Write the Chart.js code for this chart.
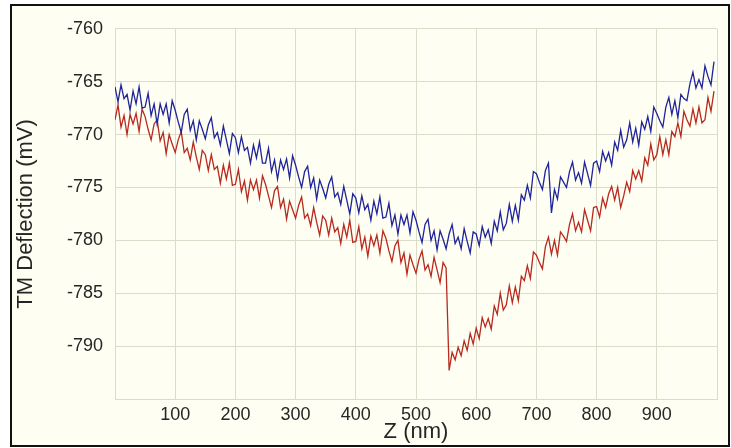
<!DOCTYPE html>
<html>
<head>
<meta charset="utf-8">
<script src="https://cdn.jsdelivr.net/npm/chart.js@4"></script>
<style>
  html, body { margin: 0; padding: 0; background: #ffffff; }
  #frame {
    position: absolute; left: 10px; top: 4px;
    width: 716px; height: 439px;
    border: 2px solid #111111;
    background: #fefef2;
  }
</style>
</head>
<body>
<div id="frame"><canvas id="forceChart" width="716" height="439"></canvas></div>
<script>
// Z position of each sample (nm)
const zNm = [
  0,5,10,15,20,25,30,35,40,45, 50,55,60,65,70,75,80,85,90,95,
  100,105,110,115,120,125,130,135,140,145, 150,155,160,165,170,175,180,185,190,195,
  200,205,210,215,220,225,230,235,240,245, 250,255,260,265,270,275,280,285,290,295,
  300,305,310,315,320,325,330,335,340,345, 350,355,360,365,370,375,380,385,390,395,
  400,405,410,415,420,425,430,435,440,445, 450,455,460,465,470,475,480,485,490,495,
  500,505,510,515,520,525,530,535,540,545, 550,555,560,565,570,575,580,585,590,595,
  600,605,610,615,620,625,630,635,640,645, 650,655,660,665,670,675,680,685,690,695,
  700,705,710,715,720,725,730,735,740,745, 750,755,760,765,770,775,780,785,790,795,
  800,805,810,815,820,825,830,835,840,845, 850,855,860,865,870,875,880,885,890,895,
  900,905,910,915,920,925,930,935,940,945, 950,955,960,965,970,975,980,985,990,995
];

// blue trace (mV)
const blueMv = [
  -765.5,-766.9,-765.3,-766.6,-766.2,-767.7,-765.9,-767.1,-765.5,-767.5,
  -767.4,-766.1,-768.2,-767.1,-769.0,-767.1,-768.1,-767.1,-768.9,-766.8,
  -767.7,-768.8,-769.8,-768.1,-767.6,-769.6,-768.7,-770.5,-768.7,-769.5,
  -770.4,-769.1,-768.4,-770.3,-769.8,-771.0,-769.2,-770.5,-771.8,-769.9,
  -770.3,-771.7,-770.2,-771.5,-771.2,-772.7,-771.0,-772.2,-770.7,-772.7,
  -772.7,-771.3,-773.5,-772.4,-774.2,-772.4,-773.3,-772.3,-774.1,-772.0,
  -772.9,-774.0,-775.0,-773.5,-773.0,-775.0,-774.1,-776.1,-774.3,-775.1,
  -776.0,-774.7,-774.0,-775.9,-775.5,-776.6,-774.9,-776.2,-777.5,-775.6,
  -776.0,-777.4,-775.8,-777.1,-776.6,-778.1,-776.3,-777.5,-775.9,-777.9,
  -777.8,-776.5,-778.6,-777.6,-779.4,-777.6,-778.5,-777.6,-779.3,-777.3,
  -778.1,-779.2,-780.2,-778.5,-778.0,-780.0,-779.1,-780.9,-779.1,-779.9,
  -780.8,-779.4,-778.5,-780.3,-779.7,-780.8,-778.9,-780.1,-781.2,-779.2,
  -779.4,-780.5,-778.7,-779.7,-779.0,-780.3,-778.2,-779.1,-777.3,-779.0,
  -778.4,-776.6,-778.2,-776.7,-778.1,-775.7,-776.2,-774.8,-776.0,-773.5,
  -773.7,-774.5,-775.2,-773.4,-772.7,-777.4,-775.2,-776.1,-774.0,-774.5,
  -775.0,-773.5,-772.6,-774.3,-773.6,-774.6,-772.6,-773.7,-774.8,-772.7,
  -772.5,-773.5,-771.6,-772.5,-771.7,-772.9,-770.7,-771.5,-769.6,-771.2,
  -770.5,-768.9,-770.7,-769.4,-771.0,-768.8,-769.5,-768.3,-769.7,-767.4,
  -768.0,-768.7,-769.3,-767.4,-766.5,-768.1,-766.8,-768.4,-766.2,-766.6,
  -766.8,-765.2,-764.1,-765.6,-764.8,-765.6,-763.5,-764.5,-765.3,-763.1
];

// red trace (mV)
const redMv = [
  -768.6,-767.2,-769.3,-768.2,-770.0,-768.1,-769.0,-768.0,-769.7,-767.6,
  -768.3,-769.5,-770.5,-769.0,-768.6,-770.6,-769.8,-771.8,-770.0,-770.9,
  -771.7,-770.5,-769.7,-771.7,-771.3,-772.4,-770.7,-772.1,-773.3,-771.5,
  -771.9,-773.4,-771.9,-773.3,-773.0,-774.6,-772.9,-774.2,-772.7,-774.8,
  -774.7,-773.3,-775.4,-774.4,-776.2,-774.3,-775.2,-774.3,-776.0,-773.9,
  -774.7,-775.8,-776.9,-775.3,-774.9,-776.9,-776.1,-778.0,-776.3,-777.1,
  -777.9,-776.7,-775.9,-777.9,-777.5,-778.6,-776.9,-778.3,-779.5,-777.7,
  -778.1,-779.5,-777.9,-779.2,-778.8,-780.3,-778.5,-779.7,-778.1,-780.2,
  -780.1,-778.7,-780.8,-779.7,-781.5,-779.6,-780.5,-779.5,-781.2,-779.1,
  -779.8,-781.0,-782.0,-780.5,-780.0,-782.1,-781.2,-783.2,-781.4,-782.3,
  -783.1,-781.8,-781.0,-782.8,-782.3,-783.4,-781.6,-782.8,-784.0,-782.1,
  -782.6,-792.3,-790.6,-791.3,-790.1,-790.9,-789.5,-790.4,-788.8,-789.8,
  -788.3,-789.3,-787.3,-788.2,-787.4,-788.4,-786.2,-787.0,-785.0,-786.6,
  -786.1,-784.3,-785.9,-784.4,-785.7,-783.4,-783.8,-782.4,-783.6,-781.1,
  -781.4,-782.1,-782.7,-780.6,-779.7,-781.3,-780.0,-781.4,-779.2,-779.6,
  -780.1,-778.5,-777.5,-779.1,-778.3,-779.2,-777.1,-778.1,-779.1,-776.9,
  -776.8,-777.8,-776.0,-776.9,-775.6,-774.9,-776.2,-775.0,-776.9,-775.8,
  -774.5,-775.4,-773.4,-774.2,-773.4,-774.4,-772.2,-772.9,-770.9,-772.4,
  -771.9,-770.2,-771.9,-770.5,-771.9,-769.7,-770.2,-768.9,-770.2,-767.8,
  -768.6,-769.2,-767.6,-768.9,-767.4,-768.9,-768.6,-766.5,-767.8,-765.9
];

const xTickLabels = [100, 200, 300, 400, 500, 600, 700, 800, 900];
const yTickLabels = [-760, -765, -770, -775, -780, -785, -790];

const gridColor = '#dcdccb';
const textColor = '#262626';
const family = "'Liberation Sans', Arial, sans-serif";

const toPoints = arr => arr.map((v, i) => ({ x: zNm[i], y: v }));

new Chart(document.getElementById('forceChart'), {
    type: 'line',
    data: {
        datasets: [
            { data: toPoints(blueMv), borderColor: '#1f2499', borderWidth: 1.3, pointRadius: 0, tension: 0 },
            { data: toPoints(redMv), borderColor: '#b8291f', borderWidth: 1.3, pointRadius: 0, tension: 0 }
        ]
    },
    options: {
        responsive: false,
        animation: false,
        layout: { padding: { top: 22, right: 11, left: 0, bottom: 0 } },
        plugins: { legend: { display: false }, tooltip: { enabled: false } },
        scales: {
            x: {
                type: 'linear', min: 0, max: 1000,
                afterFit: s => { s.height = 46; },
                grid: { color: gridColor, drawTicks: false },
                border: { color: gridColor },
                ticks: {
                    stepSize: 100, padding: 5, color: textColor,
                    font: { family: family, size: 18 },
                    callback: v => xTickLabels.includes(v) ? String(v) : ''
                },
                title: {
                    display: true, text: 'Z (nm)', color: textColor,
                    font: { family: family, size: 22 }, padding: { top: 0, bottom: 0 }
                }
            },
            y: {
                min: -795, max: -760,
                afterFit: s => { s.width = 103; },
                grid: { color: gridColor, drawTicks: false },
                border: { color: gridColor },
                ticks: {
                    stepSize: 5, padding: 12, color: textColor,
                    font: { family: family, size: 18 },
                    callback: v => yTickLabels.includes(v) ? String(v) : ''
                },
                title: {
                    display: true, text: 'TM Deflection (mV)', color: textColor,
                    font: { family: family, size: 22 }, padding: { top: 1, bottom: 0 }
                }
            }
        }
    }
});
</script>
</body>
</html>
